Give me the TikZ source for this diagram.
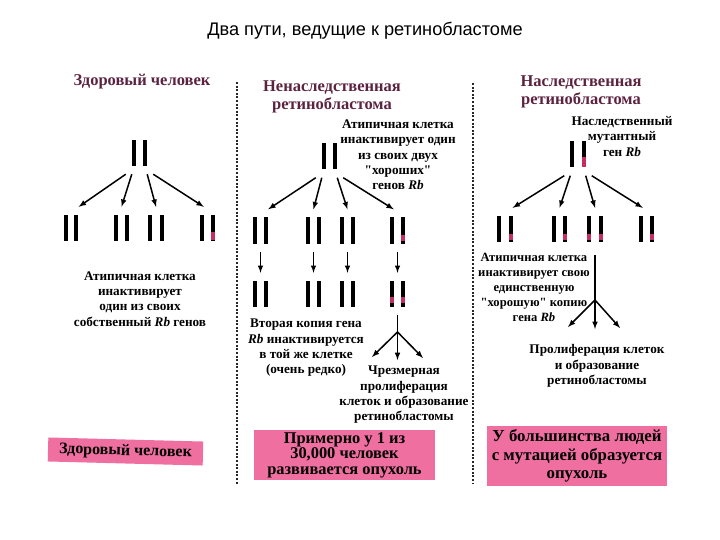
\documentclass[tikz,border=0pt]{standalone}
\usepackage{fontspec}
\setmainfont{Liberation Serif}[Ligatures=TeXOff]
\newfontfamily\titlefont{Liberation Sans}
\definecolor{rbpink}{HTML}{EE6FA0}
\definecolor{rbmark}{HTML}{C42F63}
\definecolor{rbhead}{HTML}{5C2340}
\tikzset{
  pair/.style={minimum width=30pt,minimum height=42pt,inner sep=0pt},
  bar/.style={fill=black,minimum width=4pt,minimum height=26pt,inner sep=0pt},
  lesion/.style={fill=rbmark,minimum width=4pt,minimum height=6pt,inner sep=0pt},
  head/.style={align=center,text=rbhead,font=\fontsize{16.5}{18}\selectfont\bfseries},
  txt/.style={align=center,font=\fontsize{13.2}{15.3}\selectfont\bfseries},
  pinkbox/.style={fill=rbpink,align=center,inner sep=0pt},
  divider/.style={line width=1.4pt,dash pattern=on 2pt off 1.6pt,black!85},
  arr/.style={-latex,line width=1.5pt}
}
\begin{document}
\begin{tikzpicture}[x=1pt,y=-1pt]
        \useasboundingbox (0,0) rectangle (720,540);
        \node at (365,31) (title) [font=\titlefont\fontsize{18.2}{20}\selectfont] {Два пути, ведущие к ретинобластоме};
        % dividers
        \coordinate (d1t) at (237,82);
        \coordinate (d1b) at (237,485);
        \coordinate (d2t) at (473,83);
        \coordinate (d2b) at (473,484);
        \draw[divider] (d1t) -- (d1b);
        \draw[divider] (d2t) -- (d2b);
        % chromosome pairs
        \foreach \nm/\x/\y/\g in {h0/139.5/153/5.5,h1/71/228/5,h2/121.5/228/5.5,h3/156/228/6,h4/207.5/228/5.5,
            m0/329.5/156.5/5.5,m1/260.5/230.5/5.5,m2/313.5/230.5/5.5,m3/347.5/230.5/5.5,m4/397.5/230.5/5.5,
            m5/260.5/294/5.5,m6/313.5/294/5.5,m7/347.5/294/5.5,m8/397.5/294/5.5,
            r0/578/154.5/6,r1/505/229/6,r2/559.5/229/5.5,r3/595/229/6,r4/646.5/229/5.5} {
          \node at (\x,\y) (\nm) [pair] {};
          \node at ([xshift=-\g pt]\nm.center) (\nm a) [bar] {};
          \node at ([xshift=\g pt]\nm.center) (\nm b) [bar] {};
        }
        % damaged genes
        \foreach \nm/\dy/\h in {h4b/8/8,m4b/7/6,m8b/6/6,m8a/6/6,r0b/8/10,r1b/8/6,r2b/8/6,r3a/8/6,r3b/8/6,r4b/8/6} {
          \node at ([yshift=-\dy pt]\nm.center) (\nm x) [lesion,minimum height=\h pt] {};
        }
        % healthy column
        \node at (142,81.5) (hhead) [head] {Здоровый человек};
        \draw[arr] (h0.-110) ++(-6,0) -- (h1.70);
        \draw[arr] (h0.-110) -- (h2.north);
        \draw[arr] (h0.-70) -- (h3.north);
        \draw[arr] (h0.-70) ++(6,0) -- (h4.100);
        \node at (140,299) (htxt) [txt] {Атипичная клетка\\инактивирует\\один из своих\\собственный \textit{Rb} генов};
        \node at (125.5,451.5) (hbox) [pinkbox,rotate=-1.5,minimum width=155pt,minimum height=24pt,font=\fontsize{16}{17}\selectfont\bfseries] {Здоровый человек};
        % sporadic column
        \node at (332,97) (mhead) [head] {Ненаследственная\\ретинобластома};
        \node at (398,155) (mtxt) [txt] {Атипичная клетка\\инактивирует один\\из своих двух\\"хороших"\\генов \textit{Rb}};
        \draw[arr] (m0.-110) ++(-6,0) -- (m1.70);
        \draw[arr] (m0.-110) -- (m2.north);
        \draw[arr] (m0.-70) -- (m3.north);
        \draw[arr] (m0.-70) ++(6,0) -- (m4.100);
        \draw[arr] (m1) -- (m5);
        \draw[arr] (m2) -- (m6);
        \draw[arr] (m3) -- (m7);
        \draw[arr] (m4) -- (m8);
        \coordinate (mfork) at (397.5,332);
        \coordinate (mout1) at (372,357);
        \coordinate (mout2) at (397.5,360);
        \coordinate (mout3) at (423,358);
        \draw[line width=1.5pt] (m8.south) -- (mfork);
        \draw[arr] (mfork) -- (mout1);
        \draw[arr] (mfork) -- (mout2);
        \draw[arr] (mfork) -- (mout3);
        \node at (306,348) (mtxt2) [txt] {Вторая копия гена\\\textit{Rb} инактивируется\\в той же клетке\\(очень редко)};
        \node at (404,395) (mtxt3) [txt] {Чрезмерная\\пролиферация\\клеток и образование\\ретинобластомы};
        \node at (344.5,455) (mbox) [pinkbox,minimum width=181pt,minimum height=50pt,font=\fontsize{16.4}{15.5}\selectfont\bfseries] {Примерно у 1 из\\30,000 человек\\развивается опухоль};
        % hereditary column
        \node at (581,92) (rhead) [head] {Наследственная\\ретинобластома};
        \node at (622,136.5) (rtxt) [txt] {Наследственный\\мутантный\\ген \textit{Rb}};
        \draw[arr] (r0.-110) ++(-6,0) -- (r1.70);
        \draw[arr] (r0.-110) -- (r2.north);
        \draw[arr] (r0.-70) -- (r3.north);
        \draw[arr] (r0.-70) ++(6,0) -- (r4.100);
        \coordinate (rfork) at (595,300);
        \coordinate (rout1) at (568,327);
        \coordinate (rout2) at (595,329);
        \coordinate (rout3) at (620,328);
        \draw[line width=1.5pt,shorten <=5pt] (r3.south) -- (rfork);
        \draw[arr] (rfork) -- (rout1);
        \draw[arr] (rfork) -- (rout2);
        \draw[arr] (rfork) -- (rout3);
        \node at (534,287) (rtxt2) [txt,font=\fontsize{12.6}{15}\selectfont\bfseries] {Атипичная клетка\\инактивирует свою\\единственную\\"хорошую" копию\\гена \textit{Rb}};
        \node at (597,366) (rtxt3) [txt] {Пролиферация клеток\\и образование\\ретинобластомы};
        \node at (577,456) (rbox) [pinkbox,minimum width=180pt,minimum height=60pt,font=\fontsize{16.8}{18.5}\selectfont\bfseries] {У большинства людей\\с мутацией образуется\\опухоль};
      \end{tikzpicture}
\end{document}
